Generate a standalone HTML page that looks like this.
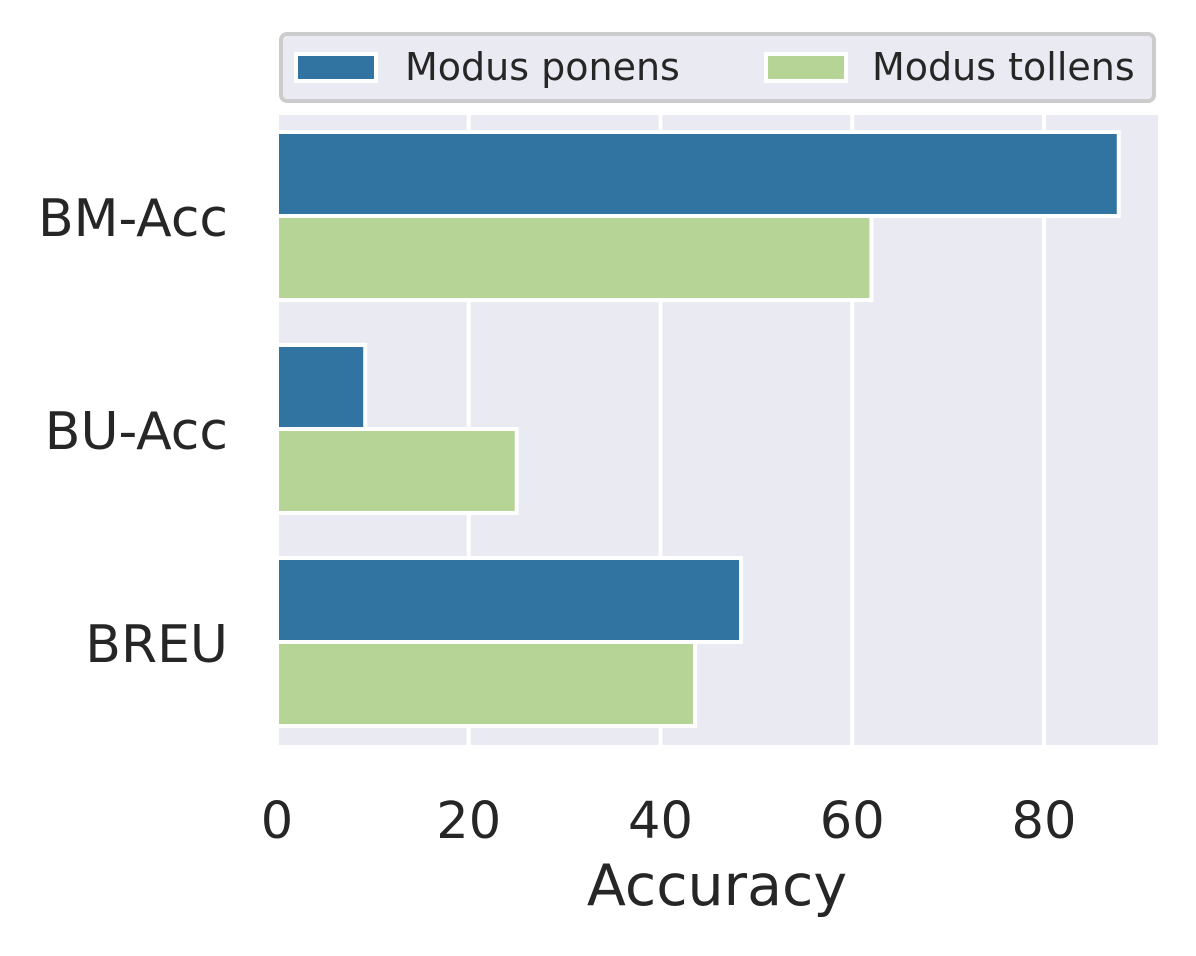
<!DOCTYPE html>
<html><head><meta charset="utf-8"><style>
html,body{margin:0;padding:0;background:#fff;}
svg{display:block;font-family:"DejaVu Sans","Liberation Sans",sans-serif;}
</style></head><body>
<svg id="chart" width="1196" height="956" viewBox="0 0 1196 956">
<rect x="277" y="115" width="881" height="630" fill="#eaeaf2"/>
<g id="grid"></g>
<g id="bars"></g>
<g id="xticks" font-size="51" fill="#262626" text-anchor="middle"></g>
<g id="ylabels" font-size="52" fill="#262626" text-anchor="end"></g>
<text x="717" y="905" font-size="57" fill="#262626" text-anchor="middle">Accuracy</text>
<g>
<rect x="281" y="34" width="873" height="67" rx="6" fill="#eaeaf2" stroke="#cccccc" stroke-width="4"/>
<rect x="296" y="54" width="80" height="27" fill="#3274a1" stroke="#fff" stroke-width="4"/>
<text x="405" y="80" font-size="38" fill="#262626">Modus ponens</text>
<rect x="766" y="54" width="80" height="27" fill="#b5d495" stroke="#fff" stroke-width="4"/>
<text x="872" y="80" font-size="38" fill="#262626">Modus tollens</text>
</g>
</svg>
<script>
const categories = ["BM-Acc","BU-Acc","BREU"];
const ponens = [87.8, 9.2, 48.4];
const tollens = [62.0, 25.0, 43.6];
const xTicks = [0,20,40,60,80];
const NS="http://www.w3.org/2000/svg";
const x0=277, pxPerUnit=9.5875;
const xs = v => x0 + v*pxPerUnit;
const catCenter = i => 216 + i*213;
const barH = 84;
function mk(tag, attrs, parent){const e=document.createElementNS(NS,tag);for(const k in attrs)e.setAttribute(k,attrs[k]);parent.appendChild(e);return e;}
const grid=document.getElementById('grid'), bars=document.getElementById('bars'), xt=document.getElementById('xticks'), yl=document.getElementById('ylabels');
xTicks.forEach(t=>{
  const l=mk('line',{x1:xs(t),x2:xs(t),y1:115,y2:745,stroke:'#fff','stroke-width':4},grid);
  
  
  const tx=mk('text',{x:xs(t),y:838},xt);tx.textContent=t;
  
  
});
categories.forEach((c,i)=>{
  const cy=catCenter(i);
  const b1=mk('rect',{x:xs(0),y:cy-barH,width:xs(ponens[i])-xs(0),height:barH,fill:'#3274a1',stroke:'#fff','stroke-width':4},bars);
  
  
  const b2=mk('rect',{x:xs(0),y:cy,width:xs(tollens[i])-xs(0),height:barH,fill:'#b5d495',stroke:'#fff','stroke-width':4},bars);
  
  
  const t=mk('text',{x:228,y:cy+20},yl);t.textContent=c;
  
  
});
</script>
</body></html>
